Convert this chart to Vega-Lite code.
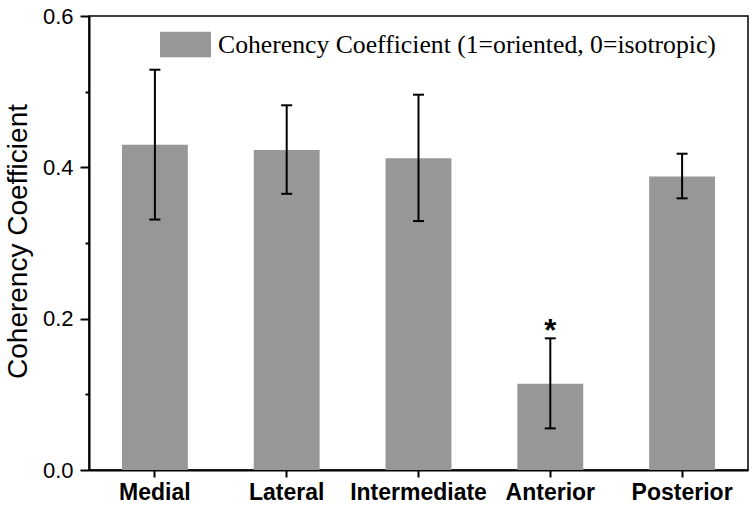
{
  "$schema": "https://vega.github.io/schema/vega-lite/v6.json",
  "width": 659,
  "height": 454,
  "autosize": "none",
  "padding": {"left": 89, "top": 16, "right": 6, "bottom": 36},
  "background": "white",
  "config": {
    "view": {"stroke": "black", "strokeWidth": 1.5},
    "axis": {"grid": false, "domainColor": "black", "domainWidth": 2, "tickColor": "black", "tickWidth": 2, "labelColor": "black", "titleColor": "black"}
  },
  "data": {
    "values": [
      {"region": "Medial", "mean": 0.430, "lower": 0.331, "upper": 0.529, "sig": ""},
      {"region": "Lateral", "mean": 0.423, "lower": 0.365, "upper": 0.482, "sig": ""},
      {"region": "Intermediate", "mean": 0.412, "lower": 0.329, "upper": 0.496, "sig": ""},
      {"region": "Anterior", "mean": 0.114, "lower": 0.055, "upper": 0.174, "sig": "*"},
      {"region": "Posterior", "mean": 0.388, "lower": 0.359, "upper": 0.418, "sig": ""}
    ]
  },
  "encoding": {
    "x": {
      "field": "region",
      "type": "nominal",
      "sort": null,
      "scale": {"paddingInner": 0.5, "paddingOuter": 0.25},
      "axis": {
        "title": null,
        "labelAngle": 0,
        "labelFont": "Liberation Sans",
        "labelFontWeight": "bold",
        "labelFontSize": 23,
        "labelPadding": 4,
        "tickSize": 7
      }
    }
  },
  "layer": [
    {
      "mark": {"type": "bar", "opacity": 1},
      "encoding": {
        "y": {
          "field": "mean",
          "type": "quantitative",
          "title": "Coherency Coefficient",
          "scale": {"domain": [0, 0.6], "nice": false, "zero": true},
          "axis": {
            "values": [0, 0.1, 0.2, 0.3, 0.4, 0.5, 0.6],
            "labelExpr": "round(datum.value*10)%2==1 ? '' : format(datum.value, '.1f')",
            "tickSize": {"condition": {"test": "round(datum.value*10)%2==1", "value": 4}, "value": 9},
            "labelFont": "Liberation Sans",
            "labelFontSize": 22,
            "labelPadding": 7,
            "titleFont": "Liberation Sans",
            "titleFontSize": 28,
            "titleFontWeight": "normal",
            "titleX": -71,
            "titleY": 225,
            "titleAngle": -90,
            "titleAlign": "center",
            "titleBaseline": "middle"
          }
        },
        "color": {
          "datum": "Coherency Coefficient (1=oriented, 0=isotropic)",
          "type": "nominal",
          "scale": {"range": ["#979797"]},
          "legend": {
            "title": null,
            "orient": "none",
            "legendX": 71,
            "legendY": 3,
            "padding": 0,
            "symbolType": "M-1,-0.5H1V0.5H-1Z",
            "symbolSize": 2601,
            "symbolStrokeWidth": 0,
            "symbolOpacity": 1,
            "labelFont": "Liberation Serif",
            "labelFontSize": 25.7,
            "labelColor": "black",
            "labelOffset": 7,
            "labelLimit": 0
          }
        }
      }
    },
    {
      "mark": {"type": "rule", "color": "black", "strokeWidth": 2},
      "encoding": {
        "y": {"field": "lower", "type": "quantitative", "title": "Coherency Coefficient"},
        "y2": {"field": "upper"}
      }
    },
    {
      "mark": {"type": "tick", "color": "black", "thickness": 2, "size": 11, "opacity": 1},
      "encoding": {"y": {"field": "upper", "type": "quantitative", "title": "Coherency Coefficient"}}
    },
    {
      "mark": {"type": "tick", "color": "black", "thickness": 2, "size": 11, "opacity": 1},
      "encoding": {"y": {"field": "lower", "type": "quantitative", "title": "Coherency Coefficient"}}
    },
    {
      "transform": [{"filter": "datum.sig != ''"}],
      "mark": {"type": "text", "font": "Liberation Sans", "fontSize": 31, "fontWeight": "bold", "baseline": "alphabetic", "dy": 3, "color": "black"},
      "encoding": {
        "y": {"field": "upper", "type": "quantitative", "title": "Coherency Coefficient"},
        "text": {"field": "sig"}
      }
    }
  ]
}
